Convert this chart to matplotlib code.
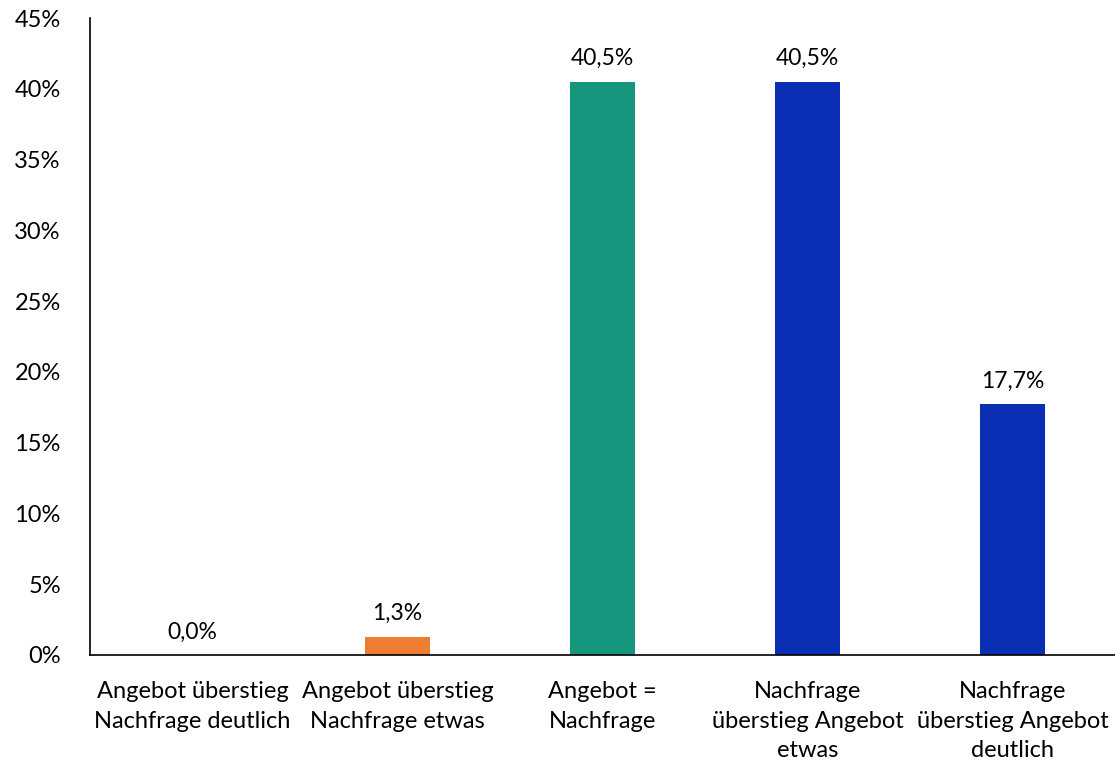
import matplotlib.pyplot as plt
from matplotlib.ticker import FuncFormatter

# Data
categories = ['Angebot überstieg\nNachfrage deutlich',
              'Angebot überstieg\nNachfrage etwas',
              'Angebot =\nNachfrage',
              'Nachfrage\nüberstieg Angebot\netwas',
              'Nachfrage\nüberstieg Angebot\ndeutlich']
values = [0.0, 1.3, 40.5, 40.5, 17.7]
colors = ['#ED7D31', '#ED7D31', '#16977D', '#0A2FB5', '#0A2FB5']

plt.rcParams['font.family'] = ['Lato', 'DejaVu Sans']

fig = plt.figure(figsize=(11.15, 7.64), dpi=100)
ax = fig.add_axes([0.0807, 0.1427, 0.9193, 0.8337])

x = range(len(categories))
bars = ax.bar(x, values, width=0.32, color=colors)

for xi, v in zip(x, values):
    ax.annotate(f'{v:.1f}%'.replace('.', ','), (xi, v), xytext=(0, 9),
                textcoords='offset points', ha='center', va='bottom', fontsize=16.5)

ax.set_xlim(-0.5, len(categories) - 0.5)
ax.set_ylim(0, 45)
ax.set_yticks(range(0, 50, 5))
ax.yaxis.set_major_formatter(FuncFormatter(lambda v, p: f'{v:.0f}%'))
ax.set_xticks(list(x))
ax.set_xticklabels(categories, fontsize=17, linespacing=1.5)
ax.tick_params(axis='y', labelsize=17, length=0, pad=21)
ax.tick_params(axis='x', length=0, pad=19)

for side in ['top', 'right']:
    ax.spines[side].set_visible(False)
ax.spines['left'].set_linewidth(1.2)
ax.spines['bottom'].set_linewidth(1.2)

fig.savefig('out.png', dpi=100)
